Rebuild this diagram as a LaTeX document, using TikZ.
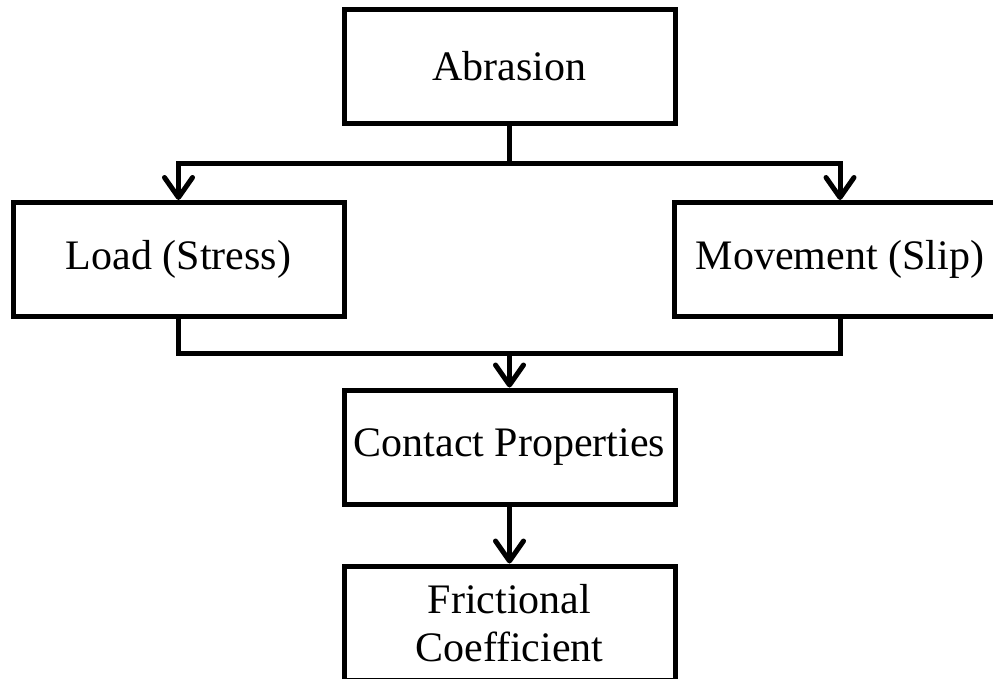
\documentclass[tikz,border=0pt]{standalone}
\usepackage{fontspec}
\setmainfont{Liberation Serif}
\usetikzlibrary{arrows.meta}
\begin{document}
\begin{tikzpicture}[x=1pt,y=1pt, line width=5pt,
  box/.style={draw, line width=5pt, minimum width=331pt, minimum height=114pt,
    inner sep=0pt, align=center, font=\fontsize{42}{48}\selectfont},
  arr/.style={-{Straight Barb[length=20pt,width=28pt,round]}}]
  \useasboundingbox (0,0) rectangle (993,-678);
  \node[box] (abr) at (509.5,-66) {Abrasion};
  \node[box] (load) at (178.5,-259.5) {Load (Stress)};
  \node[box] (mov) at (840,-259.5) {Movement (Slip)};
  \node[box] (cont) at (509.5,-447) {Contact Properties};
  \node[box] (fric) at (509.5,-623) {Frictional\\Coefficient};
  \coordinate (j1) at (509.5,-163);
  \coordinate (j2) at (509.5,-353);
  \draw (abr.south) -- (j1);
  \draw[arr] (j1) -| (load.north);
  \draw[arr] (j1) -| (mov.north);
  \draw (load.south) |- (j2) -| (mov.south);
  \draw[arr] (j2) -- (cont.north);
  \draw[arr] (cont.south) -- (fric.north);
\end{tikzpicture}
\end{document}
